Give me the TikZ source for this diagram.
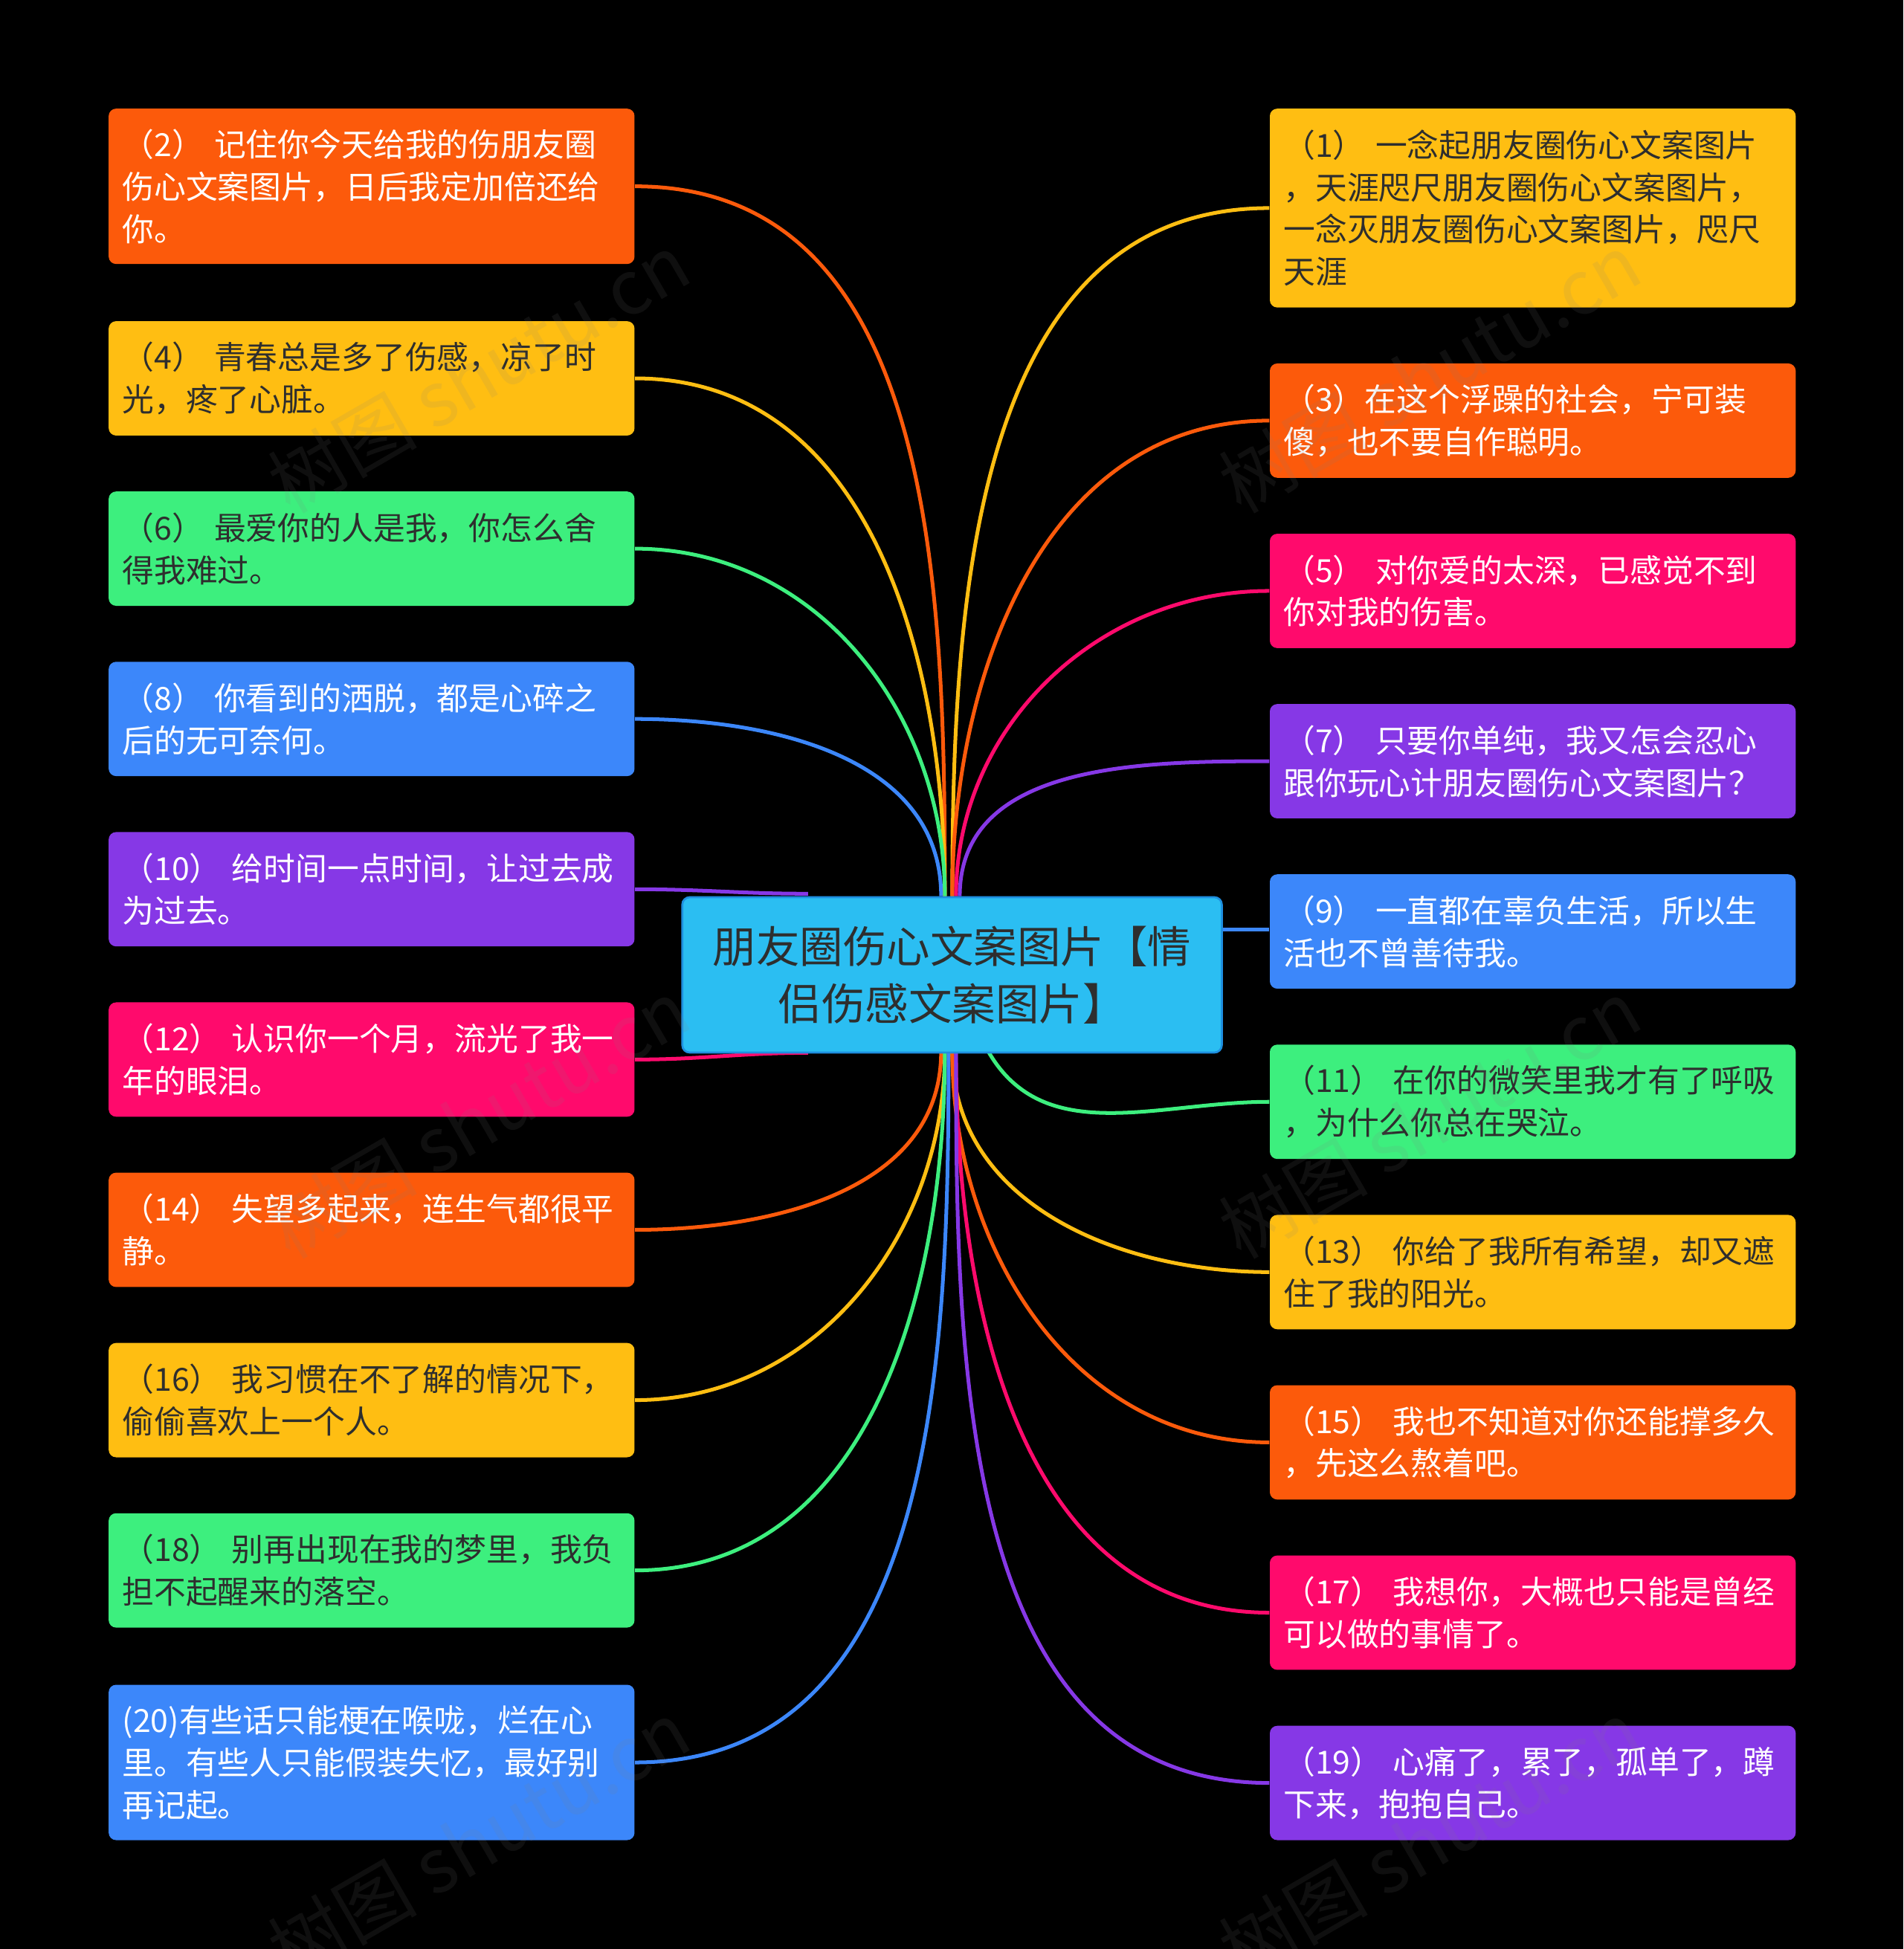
\documentclass[tikz,border=0pt]{standalone}
\usepackage{fontspec}
\setmainfont{Noto Sans CJK SC}
\definecolor{cO}{HTML}{FC5A0B}
\definecolor{cY}{HTML}{FFBE12}
\definecolor{cG}{HTML}{3DEF7E}
\definecolor{cB}{HTML}{3C87FA}
\definecolor{cP}{HTML}{8638E6}
\definecolor{cK}{HTML}{FF0A6C}
\definecolor{cC}{HTML}{2BBEF2}
\definecolor{cCb}{HTML}{1E8FE0}
\definecolor{dk}{HTML}{2E2E2E}
\begin{document}
\begin{tikzpicture}[x=0.5pt,y=-0.5pt,
  box/.style={rounded corners=3pt,anchor=north west,minimum width=211.5pt,text width=200.5pt,inner xsep=5.5pt,inner ysep=0pt,align=left,font=\fontsize{12.8}{17}\selectfont},
  wt/.style={text=white},
  dt/.style={text=dk},
  h2/.style={minimum height=46pt},
  h3/.style={minimum height=62.5pt},
  h4/.style={minimum height=80pt},
  con/.style={line width=1.5pt},
  wm/.style={rotate=30,text=gray,opacity=0.12,font=\fontsize{30}{30}\selectfont}]
\fill[black] (0,0) rectangle (1531,1568);
\useasboundingbox (0,0) rectangle (1531,1568);
% left boxes
\node[box,h3,fill=cO,wt] (L2) at (87,87) {（2）\ 记住你今天给我的伤朋友圈\\伤心文案图片，日后我定加倍还给\\你。};
\node[box,h2,fill=cY,dt] (L4) at (87,258) {（4）\ 青春总是多了伤感，凉了时\\光，疼了心脏。};
\node[box,h2,fill=cG,dt] (L6) at (87,395) {（6）\ 最爱你的人是我，你怎么舍\\得我难过。};
\node[box,h2,fill=cB,wt] (L8) at (87,532) {（8）\ 你看到的洒脱，都是心碎之\\后的无可奈何。};
\node[box,h2,fill=cP,wt] (L10) at (87,669) {（10）\ 给时间一点时间，让过去成\\为过去。};
\node[box,h2,fill=cK,wt] (L12) at (87,806) {（12）\ 认识你一个月，流光了我一\\年的眼泪。};
\node[box,h2,fill=cO,wt] (L14) at (87,943) {（14）\ 失望多起来，连生气都很平\\静。};
\node[box,h2,fill=cY,dt] (L16) at (87,1080) {（16）\ 我习惯在不了解的情况下，\\偷偷喜欢上一个人。};
\node[box,h2,fill=cG,dt] (L18) at (87,1217) {（18）\ 别再出现在我的梦里，我负\\担不起醒来的落空。};
\node[box,h3,fill=cB,wt] (L20) at (87,1355) {(20)有些话只能梗在喉咙，烂在心\\里。有些人只能假装失忆，最好别\\再记起。};
% right boxes
\node[box,h4,fill=cY,dt] (R1) at (1021,87) {（1）\ 一念起朋友圈伤心文案图片\\，天涯咫尺朋友圈伤心文案图片，\\一念灭朋友圈伤心文案图片，咫尺\\天涯};
\node[box,h2,fill=cO,wt] (R3) at (1021,292) {（3）在这个浮躁的社会，宁可装\\傻，也不要自作聪明。};
\node[box,h2,fill=cK,wt] (R5) at (1021,429) {（5）\ 对你爱的太深，已感觉不到\\你对我的伤害。};
\node[box,h2,fill=cP,wt] (R7) at (1021,566) {（7）\ 只要你单纯，我又怎会忍心\\跟你玩心计朋友圈伤心文案图片？};
\node[box,h2,fill=cB,wt] (R9) at (1021,703) {（9）\ 一直都在辜负生活，所以生\\活也不曾善待我。};
\node[box,h2,fill=cG,dt] (R11) at (1021,840) {（11）\ 在你的微笑里我才有了呼吸\\，为什么你总在哭泣。};
\node[box,h2,fill=cY,dt] (R13) at (1021,977) {（13）\ 你给了我所有希望，却又遮\\住了我的阳光。};
\node[box,h2,fill=cO,wt] (R15) at (1021,1114) {（15）\ 我也不知道对你还能撑多久\\，先这么熬着吧。};
\node[box,h2,fill=cK,wt] (R17) at (1021,1251) {（17）\ 我想你，大概也只能是曾经\\可以做的事情了。};
\node[box,h2,fill=cP,wt] (R19) at (1021,1388) {（19）\ 心痛了，累了，孤单了，蹲\\下来，抱抱自己。};
% anchor coordinates on center
\coordinate (t1) at (757,721); \coordinate (t2) at (760,721);
\coordinate (t4) at (766,721); \coordinate (t5) at (769,721); \coordinate (t6) at (772,721);
\coordinate (b1) at (757,846); \coordinate (b2) at (760,846); \coordinate (b3) at (763,846);
\coordinate (b4) at (766,846); \coordinate (b5) at (769,846);
\coordinate (t10) at (650,719); \coordinate (b12) at (650,847);
\coordinate (b11) at (795,846); \coordinate (e9) at (982,748);
% connectors left
\draw[con,cO] (L2.east) to[out=0,in=90] (t2);
\draw[con,cY] (L4.east) to[out=0,in=90] (t2);
\draw[con,cG] (L6.east) to[out=0,in=90] (t2);
\draw[con,cB] (L8.east) to[out=0,in=90] (t1);
\draw[con,cP] (L10.east) to[out=0,in=180] (t10);
\draw[con,cK] (L12.east) to[out=0,in=180] (b12);
\draw[con,cO] (L14.east) to[out=0,in=-90] (b1);
\draw[con,cY] (L16.east) to[out=0,in=-90] (b2);
\draw[con,cG] (L18.east) to[out=0,in=-90] (b2);
\draw[con,cB] (L20.east) to[out=0,in=-90] (b3);
% connectors right
\draw[con,cY] (R1.west) to[out=180,in=90] (t4);
\draw[con,cO] (R3.west) to[out=180,in=90] (t4);
\draw[con,cK] (R5.west) to[out=180,in=90] (t5);
\draw[con,cP] (R7.west) to[out=180,in=90] (t6);
\draw[con,cB] (R9.west |- e9) -- (e9);
\draw[con,cG] (R11.west) to[out=180,in=-60] (b11);
\draw[con,cY] (R13.west) to[out=180,in=-90] (b4);
\draw[con,cO] (R15.west) to[out=180,in=-90] (b4);
\draw[con,cK] (R17.west) to[out=180,in=-90] (b5);
\draw[con,cP] (R19.west) to[out=180,in=-90] (b5);
% center
\node[rounded corners=3pt,fill=cC,draw=cCb,line width=0.8pt,anchor=north west,minimum width=217pt,minimum height=62.5pt,text width=205pt,align=center,inner sep=0pt,text=dk,font=\fontsize{17.5}{23}\selectfont] (C) at (548,721) {朋友圈伤心文案图片【情\\侣伤感文案图片】};
% watermarks
\foreach \p in {(385,300),(1150,300),(385,900),(1150,900),(385,1480),(1150,1480)}
  \node[wm] at \p {树图 shutu.cn};
\end{tikzpicture}
\end{document}
